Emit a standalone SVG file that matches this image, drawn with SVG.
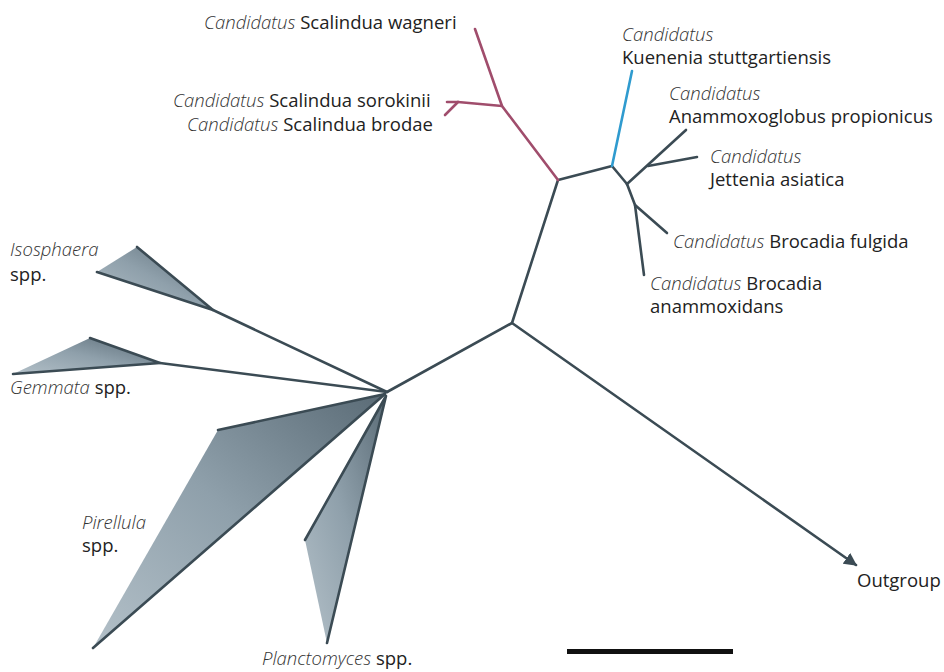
<svg xmlns="http://www.w3.org/2000/svg" width="944" height="672" viewBox="0 0 944 672">
<defs>
<linearGradient id="clade" x1="0" y1="1" x2="1" y2="0">
<stop offset="0" stop-color="#b3c0c8"/>
<stop offset="0.5" stop-color="#8fa0ab"/>
<stop offset="1" stop-color="#5a6b76"/>
</linearGradient>
<marker id="arrow" viewBox="0 0 10 10" refX="9" refY="5" markerWidth="5" markerHeight="5" orient="auto" markerUnits="strokeWidth">
<path d="M0,0 L10,5 L0,10 z" fill="#3b4b54"/>
</marker>
<style>
.br{fill:none;stroke:#3b4b54;stroke-width:2.6;stroke-linecap:round;stroke-linejoin:round}
.red{fill:none;stroke:#a04d6c;stroke-width:2.6;stroke-linecap:round;stroke-linejoin:round}
.blue{fill:none;stroke:#2f9bcf;stroke-width:2.6;stroke-linecap:round}
.tri{fill:url(#clade);stroke:none}
.edge{fill:none;stroke:#3b4b54;stroke-width:2.6;stroke-linecap:round;stroke-linejoin:round}
text{font-family:"Open Sans","Liberation Sans",sans-serif;font-size:18.5px;fill:#222}
.it{font-style:italic;font-weight:300;fill:#333}
</style>
</defs>
<rect width="944" height="672" fill="#fff"/>

<g id="connectors">
<polyline class="br" points="387,392 512,323 558,180 612,166 627,184"/>
<line class="br" x1="512" y1="323" x2="856" y2="565" marker-end="url(#arrow)"/>
<polyline class="red" points="558,180 502,106 475,29"/>
<polyline class="red" points="502,106 458,102 447,102"/>
<line class="red" x1="458" y1="102" x2="445" y2="115"/>
<line class="blue" x1="612" y1="166" x2="632" y2="71"/>
<line class="br" x1="627" y1="184" x2="686" y2="130"/>
<line class="br" x1="648" y1="166" x2="697" y2="157"/>
<polyline class="br" points="627,184 635,205 644,275"/>
<line class="br" x1="635" y1="205" x2="667" y2="233"/>
<line class="br" x1="387" y1="392" x2="213" y2="310"/>
<line class="br" x1="387" y1="392" x2="160" y2="363"/>
</g>

<g id="isosphaera">
<polygon class="tri" points="137,247 213,310 97,272"/>
<polyline class="edge" points="137,247 213,310 97,272"/>
<text x="10" y="256"><tspan class="it">Isosphaera</tspan></text>
<text x="10" y="281">spp.</text>
</g>

<g id="gemmata">
<polygon class="tri" points="90,338 160,363 13,374"/>
<polyline class="edge" points="90,338 160,363 13,374"/>
<text x="10" y="394"><tspan class="it">Gemmata</tspan> spp.</text>
</g>

<g id="pirellula">
<polygon class="tri" points="218,430 385,394 93,648"/>
<polyline class="edge" points="218,430 385,394 93,648"/>
<text x="82" y="529"><tspan class="it">Pirellula</tspan></text>
<text x="82" y="552">spp.</text>
</g>

<g id="planctomyces">
<polygon class="tri" points="386,396 305,540 327,643"/>
<polyline class="edge" points="305,540 386,396 327,643"/>
<text x="262" y="665"><tspan class="it">Planctomyces</tspan> spp.</text>
</g>

<g id="wagneri">
<text x="204" y="29"><tspan class="it">Candidatus</tspan> Scalindua wagneri</text>
</g>
<g id="sorokinii">
<text x="173" y="107"><tspan class="it">Candidatus</tspan> Scalindua sorokinii</text>
</g>
<g id="brodae">
<text x="187" y="131"><tspan class="it">Candidatus</tspan> Scalindua brodae</text>
</g>
<g id="kuenenia">
<text x="622" y="41"><tspan class="it">Candidatus</tspan></text>
<text x="622" y="64">Kuenenia stuttgartiensis</text>
</g>
<g id="anammoxoglobus">
<text x="669" y="100"><tspan class="it">Candidatus</tspan></text>
<text x="669" y="123">Anammoxoglobus propionicus</text>
</g>
<g id="jettenia">
<text x="710" y="163"><tspan class="it">Candidatus</tspan></text>
<text x="710" y="186">Jettenia asiatica</text>
</g>
<g id="fulgida">
<text x="673" y="248"><tspan class="it">Candidatus</tspan> Brocadia fulgida</text>
</g>
<g id="anammoxidans">
<text x="650" y="290"><tspan class="it">Candidatus</tspan> Brocadia</text>
<text x="650" y="313">anammoxidans</text>
</g>
<g id="outgroup">
<text x="857" y="587">Outgroup</text>
</g>
<g id="scalebar">
<rect x="567" y="649" width="166" height="5" fill="#111"/>
</g>
</svg>
